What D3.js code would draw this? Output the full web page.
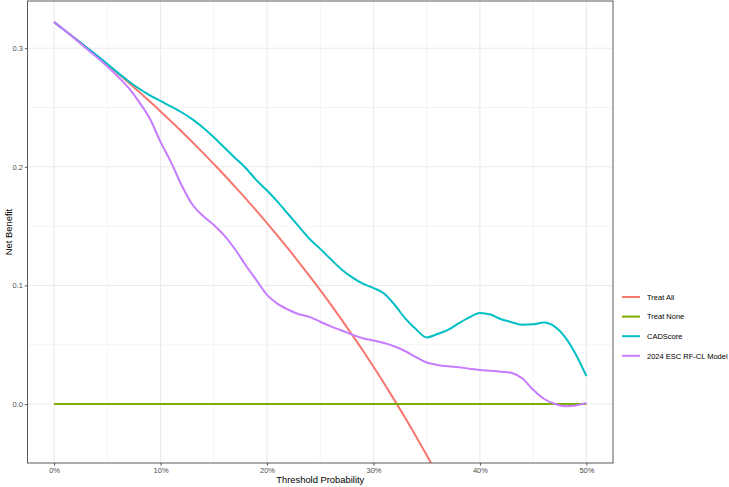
<!DOCTYPE html>
<html>
<head>
<meta charset="utf-8">
<script src="https://cdn.jsdelivr.net/npm/d3@7"></script>
<style>
  body { margin: 0; background: #fff; }
  svg { display: block; font-family: "Liberation Sans", Arial, sans-serif; }
</style>
</head>
<body>
<div id="chart"></div>
<script>
// threshold probabilities, 0% .. 50% in 1% steps
var thresholds = d3.range(0, 51).map(function(i) { return i / 100; });

var seriesNames = ['Treat All', 'Treat None', 'CADScore', '2024 ESC RF-CL Model'];
var seriesColors = ['#F8766D', '#7CAE00', '#00BFC4', '#C77CFF'];

// net benefit values
var treatAll = [0.322, 0.3152, 0.3082, 0.3010, 0.2938, 0.2863, 0.2787, 0.2710, 0.2630, 0.2550,
    0.2467, 0.2382, 0.2296, 0.2207, 0.2116, 0.2024, 0.1929, 0.1831, 0.1732, 0.1630,
    0.1525, 0.1418, 0.1308, 0.1195, 0.1079, 0.0960, 0.0838, 0.0712, 0.0583, 0.0451,
    0.0314, 0.0174, 0.0029, -0.0119, -0.0273, -0.0431, -0.0594];
var treatNone = [0, 0, 0, 0, 0, 0, 0, 0, 0, 0, 0, 0, 0, 0, 0, 0, 0, 0, 0, 0, 0, 0, 0, 0, 0, 0,
    0, 0, 0, 0, 0, 0, 0, 0, 0, 0, 0, 0, 0, 0, 0, 0, 0, 0, 0, 0, 0, 0, 0, 0, 0];
var cadScore = [0.322, 0.315, 0.308, 0.301, 0.294, 0.2866, 0.2792, 0.2722, 0.2658, 0.2603,
    0.2555, 0.2508, 0.2458, 0.2400, 0.2330, 0.2250, 0.2162, 0.2075, 0.1990, 0.1888,
    0.1800, 0.1705, 0.1600, 0.1495, 0.1392, 0.1308, 0.1220, 0.1135, 0.1068, 0.1015,
    0.0978, 0.0932, 0.0835, 0.0720, 0.0630, 0.0562, 0.0590, 0.0625, 0.0680, 0.0730,
    0.0768, 0.0755, 0.0715, 0.0690, 0.0668, 0.0672, 0.0688, 0.0655, 0.0565, 0.0420,
    0.0236];
var escModel = [0.322, 0.315, 0.3075, 0.300, 0.2925, 0.2845, 0.276, 0.2665, 0.2545, 0.2405,
    0.2210, 0.2035, 0.1840, 0.1680, 0.1585, 0.1510, 0.1420, 0.1305, 0.1170, 0.1045,
    0.0920, 0.0845, 0.0795, 0.0757, 0.0735, 0.0694, 0.0655, 0.0620, 0.0585, 0.0555,
    0.0535, 0.0515, 0.0485, 0.0445, 0.0395, 0.0350, 0.0330, 0.0318, 0.0310, 0.0298,
    0.0287, 0.0280, 0.0272, 0.0262, 0.0215, 0.0120, 0.0045, 0.0002, -0.0018, -0.0012,
    0.0010];

var xTicks = [0, 0.1, 0.2, 0.3, 0.4, 0.5];
var xMinor = [0.05, 0.15, 0.25, 0.35, 0.45];
var yTicks = [0, 0.1, 0.2, 0.3];
var yMinor = [0.05, 0.15, 0.25];

var width = 729, height = 487;
var panel = { left: 27.5, right: 613, top: 1, bottom: 463 };

var svg = d3.select('#chart')
    .append('svg')
        .attr('width', width)
        .attr('height', height);

var x = d3.scaleLinear()
    .domain([-0.025, 0.525])
    .range([panel.left, panel.right]);

var y = d3.scaleLinear()
    .domain([-0.0497, 0.3398])
    .range([panel.bottom, panel.top]);

// grid
var grid = svg.append('g');
grid.selectAll('.xminor').data(xMinor).enter().append('line')
    .attr('x1', function(d) { return x(d); }).attr('x2', function(d) { return x(d); })
    .attr('y1', panel.top).attr('y2', panel.bottom)
    .style('stroke', '#EBEBEB').style('stroke-width', 0.55);
grid.selectAll('.yminor').data(yMinor).enter().append('line')
    .attr('y1', function(d) { return y(d); }).attr('y2', function(d) { return y(d); })
    .attr('x1', panel.left).attr('x2', panel.right)
    .style('stroke', '#EBEBEB').style('stroke-width', 0.55);
grid.selectAll('.xmajor').data(xTicks).enter().append('line')
    .attr('x1', function(d) { return x(d); }).attr('x2', function(d) { return x(d); })
    .attr('y1', panel.top).attr('y2', panel.bottom)
    .style('stroke', '#EBEBEB').style('stroke-width', 1.1);
grid.selectAll('.ymajor').data(yTicks).enter().append('line')
    .attr('y1', function(d) { return y(d); }).attr('y2', function(d) { return y(d); })
    .attr('x1', panel.left).attr('x2', panel.right)
    .style('stroke', '#EBEBEB').style('stroke-width', 1.1);

svg.append('clipPath')
    .attr('id', 'clip')
    .append('rect')
        .attr('x', panel.left).attr('y', panel.top)
        .attr('width', panel.right - panel.left)
        .attr('height', panel.bottom - panel.top);

var line = d3.line()
    .x(function(d) { return x(d[0]); })
    .y(function(d) { return y(d[1]); })
    .curve(d3.curveMonotoneX);

var allSeries = [treatAll, treatNone, cadScore, escModel];
var lines = svg.append('g').attr('clip-path', 'url(#clip)');
allSeries.forEach(function(vals, i) {
    var pts = vals.map(function(v, j) { return [thresholds[j], v]; });
    lines.append('path')
        .attr('d', line(pts))
        .style('fill', 'none')
        .style('stroke', seriesColors[i])
        .style('stroke-width', 2);
});

// panel border
svg.append('rect')
    .attr('x', panel.left).attr('y', panel.top)
    .attr('width', panel.right - panel.left)
    .attr('height', panel.bottom - panel.top)
    .style('fill', 'none')
    .style('stroke', '#333333')
    .style('stroke-width', 0.8);

// axes
var xAxis = svg.append('g')
    .attr('transform', 'translate(0,' + panel.bottom + ')')
    .call(d3.axisBottom(x).tickValues(xTicks).tickSize(2.7).tickPadding(2)
        .tickFormat(function(d) { return Math.round(d * 100) + '%'; }));
var yAxis = svg.append('g')
    .attr('transform', 'translate(' + panel.left + ',0)')
    .call(d3.axisLeft(y).tickValues(yTicks).tickSize(2.7).tickPadding(2)
        .tickFormat(d3.format('.1f')));
[xAxis, yAxis].forEach(function(a) {
    a.select('.domain').remove();
    a.selectAll('line').style('stroke', '#333333').style('stroke-width', 0.8);
    a.selectAll('text')
        .style('fill', '#4D4D4D')
        .style('font-size', '7.5px')
        .style('font-family', '"Liberation Sans", Arial, sans-serif');
});

// x label
svg.append('text')
    .attr('x', (panel.left + panel.right) / 2)
    .attr('y', 483)
    .attr('text-anchor', 'middle')
    .style('font-size', '9.4px')
    .text('Threshold Probability');

// y label
svg.append('text')
    .attr('transform', 'rotate(-90)')
    .attr('x', -(panel.top + panel.bottom) / 2)
    .attr('y', 12)
    .attr('text-anchor', 'middle')
    .style('font-size', '9.4px')
    .text('Net Benefit');

// legend
var legend = svg.append('g');
seriesNames.forEach(function(name, i) {
    var cy = 297 + i * 19.6;
    legend.append('line')
        .attr('x1', 622).attr('x2', 640)
        .attr('y1', cy).attr('y2', cy)
        .style('stroke', seriesColors[i])
        .style('stroke-width', 2);
    legend.append('text')
        .attr('x', 647)
        .attr('y', cy + 2.7)
        .style('font-size', '7.5px')
        .text(name);
});
</script>
</body>
</html>
